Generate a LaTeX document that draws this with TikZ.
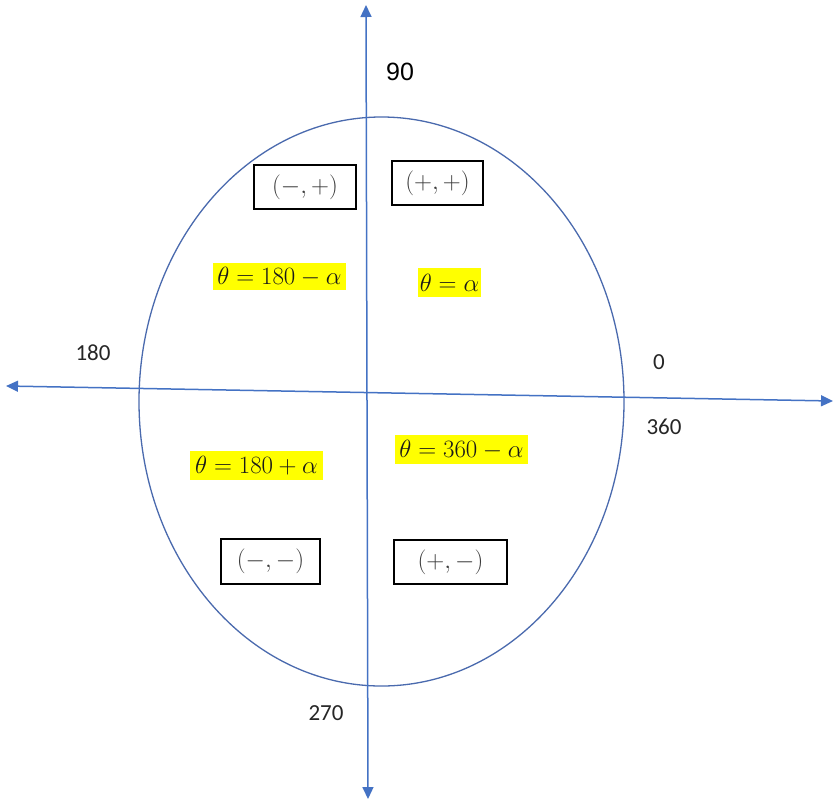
\documentclass[tikz,border=0pt]{standalone}
\usepackage{fontspec}
\setmainfont{Carlito}
\newfontfamily\arialfont{Liberation Sans}
\usetikzlibrary{arrows.meta}
\definecolor{axisblue}{HTML}{4472C4}
\definecolor{ellblue}{HTML}{4A6AAE}
\definecolor{labgray}{HTML}{262626}
\definecolor{boxtext}{HTML}{3A3A3A}
\definecolor{hilite}{HTML}{FFFF00}
\tikzset{
  axis/.style={draw=axisblue, line width=1.5pt, {Triangle[length=12pt,width=11pt]}-{Triangle[length=12pt,width=11pt]}},
  oval/.style={draw=ellblue, line width=1.3pt},
  signbox/.style={draw=black, line width=1.1pt, inner sep=0pt, text=boxtext, font=\fontsize{23}{27}\selectfont},
  hl/.style={fill=hilite, inner sep=0pt, text=black!90, font=\fontsize{24.5}{28}\selectfont},
  anglab/.style={text=labgray, inner sep=0pt, font=\fontsize{23}{26}\selectfont},
}
\begin{document}
\begin{tikzpicture}[x=1pt,y=-1pt]
\useasboundingbox (0,0) rectangle (835,804);
\fill[white] (0,0) rectangle (835,804);
\draw[oval] (381.5,401.5) ellipse [x radius=242.5, y radius=284.5];
\coordinate (vt) at (366,5);
\coordinate (vb) at (368,799);
\coordinate (hl) at (6,386);
\coordinate (hr) at (833,401);
\draw[axis] (vb) -- (vt);
\draw[axis] (hl) -- (hr);
\node[signbox, minimum width=102pt, minimum height=44pt] (q2) at (305,187) {$(-,+)$};
\node[signbox, minimum width=91pt, minimum height=44pt] (q1) at (437.5,183) {$(+,+)$};
\node[signbox, minimum width=99pt, minimum height=45pt] (q3) at (270.5,561.5) {$(-,-)$};
\node[signbox, minimum width=113pt, minimum height=44pt] (q4) at (450.5,562) {$(+,-)$};
\node[hl, minimum width=133pt, minimum height=27pt] (e2) at (279.5,276.5) {$\theta=180-\alpha$};
\node[hl, minimum width=63pt, minimum height=29pt] (e1) at (449.5,282.5) {$\theta=\alpha$};
\node[hl, minimum width=133pt, minimum height=29pt] (e3) at (256.5,465.5) {$\theta=180+\alpha$};
\node[hl, minimum width=133pt, minimum height=29pt] (e4) at (461.5,449.5) {$\theta=360-\alpha$};
\node[anglab] (l180) at (93,353) {180};
\node[anglab] (l0) at (659,362) {0};
\node[anglab] (l360) at (664,427) {360};
\node[anglab] (l270) at (326,713) {270};
\node[anglab, text=black, font=\arialfont\fontsize{25}{28}\selectfont] (l90) at (400,72) {90};
\end{tikzpicture}
\end{document}
